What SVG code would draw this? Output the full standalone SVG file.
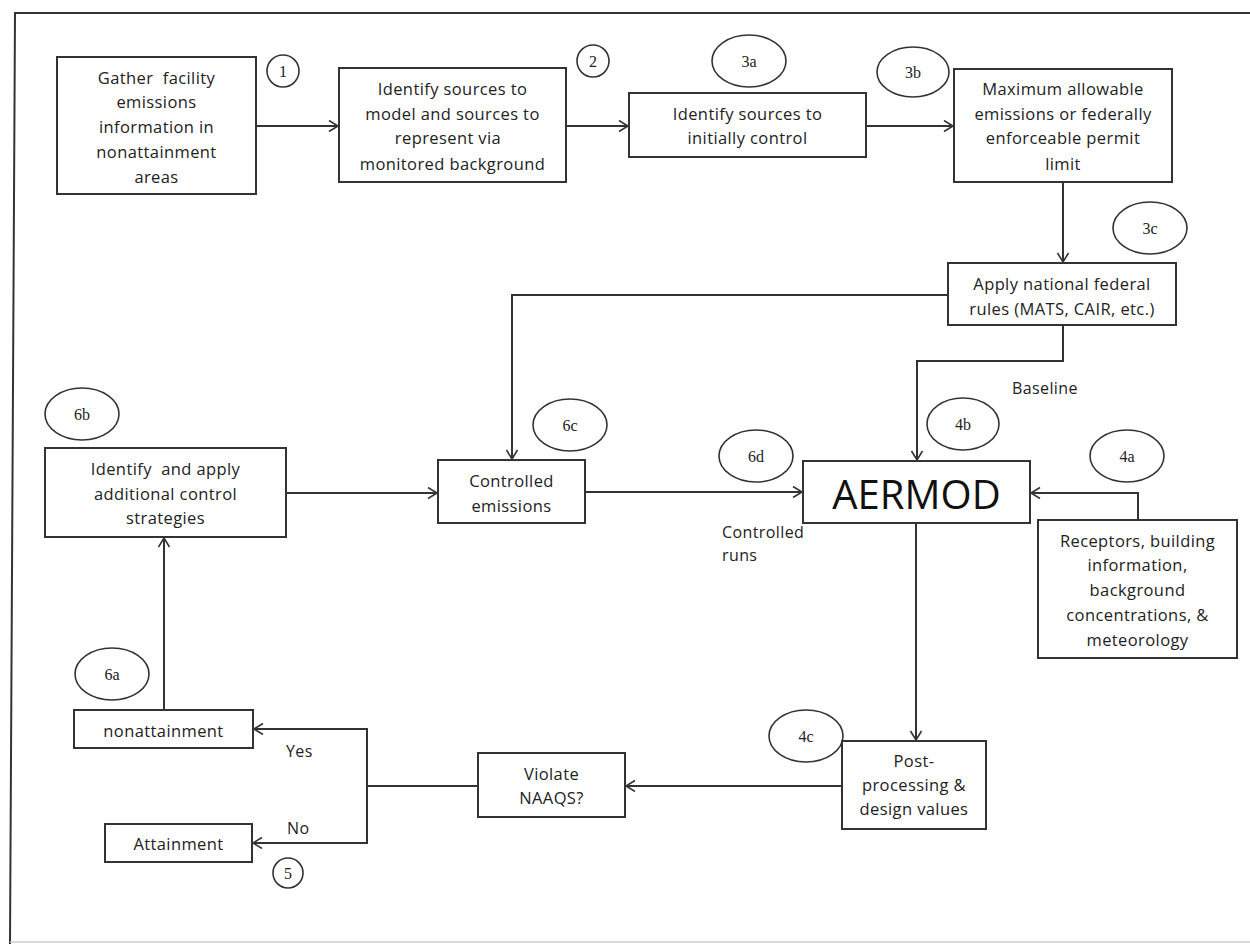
<svg xmlns="http://www.w3.org/2000/svg" width="1250" height="944" viewBox="0 0 1250 944">
<defs>
<style>
.box{fill:#fff;stroke:#333;stroke-width:2}
.tag{fill:none;stroke:#333;stroke-width:1.6}
.t{font-family:"Open Sans","Liberation Sans",sans-serif;font-size:16.5px;fill:#222;text-anchor:middle;dominant-baseline:central;letter-spacing:0.4px}
.tl{font-family:"Open Sans","Liberation Sans",sans-serif;font-size:16px;fill:#222;dominant-baseline:central;letter-spacing:0.4px}
.n{font-family:"Liberation Serif","DejaVu Serif",serif;font-size:16px;fill:#222;text-anchor:middle;dominant-baseline:central}
.big{font-family:"Open Sans","Liberation Sans",sans-serif;font-size:40px;fill:#111;text-anchor:middle;dominant-baseline:central}
.c{fill:none;stroke:#333;stroke-width:2}
</style>
<marker id="ah" markerUnits="userSpaceOnUse" markerWidth="12" markerHeight="14" refX="10" refY="6" orient="auto">
<path d="M1,0.5 L10,6 L1,11.5" fill="none" stroke="#333" stroke-width="1.6"/>
</marker>
</defs>
<rect x="0" y="0" width="1250" height="944" fill="#fff"/>
<g id="frame" fill="none" stroke="#333" stroke-width="2">
<path d="M1250,13 L15,13 L10,944"/>
<path d="M10,942 L1250,942" stroke="#ccc" stroke-width="1.5"/>
</g>
<g id="connectors">
<line class="c" x1="256" y1="126" x2="338" y2="126" marker-end="url(#ah)"/>
<line class="c" x1="566" y1="126" x2="628" y2="126" marker-end="url(#ah)"/>
<line class="c" x1="866" y1="126" x2="953" y2="126" marker-end="url(#ah)"/>
<line class="c" x1="1063" y1="182" x2="1063" y2="262" marker-end="url(#ah)"/>
<polyline class="c" points="948,295 512,295 512,459" marker-end="url(#ah)"/>
<polyline class="c" points="1063,325 1063,361 917,361 917,460" marker-end="url(#ah)"/>
<polyline class="c" points="1138,520 1138,493 1031,493" marker-end="url(#ah)"/>
<line class="c" x1="286" y1="493" x2="437" y2="493" marker-end="url(#ah)"/>
<line class="c" x1="585" y1="492" x2="802" y2="492" marker-end="url(#ah)"/>
<line class="c" x1="916" y1="523" x2="916" y2="740" marker-end="url(#ah)"/>
<line class="c" x1="842" y1="786" x2="626" y2="786" marker-end="url(#ah)"/>
<line class="c" x1="478" y1="786" x2="367" y2="786"/>
<polyline class="c" points="367,786 367,729 254,729" marker-end="url(#ah)"/>
<polyline class="c" points="367,786 367,843 253,843" marker-end="url(#ah)"/>
<line class="c" x1="164" y1="710" x2="164" y2="538" marker-end="url(#ah)"/>
<text class="tl" x="1012" y="388">Baseline</text>
<text class="tl" x="722" y="532">Controlled</text>
<text class="tl" x="722" y="555">runs</text>
<text class="tl" x="286" y="751">Yes</text>
<text class="tl" x="287" y="828">No</text>
</g>
<g id="step1">
<rect class="box" x="57" y="57" width="199" height="137"/>
<text class="t" x="156.5" y="77" xml:space="preserve">Gather  facility</text>
<text class="t" x="156.5" y="101">emissions</text>
<text class="t" x="156.5" y="126">information in</text>
<text class="t" x="156.5" y="151">nonattainment</text>
<text class="t" x="156.5" y="176">areas</text>
<circle class="tag" cx="283" cy="71" r="16"/>
<text class="n" x="283" y="71">1</text>
</g>
<g id="step2">
<rect class="box" x="339" y="68" width="227" height="114"/>
<text class="t" x="452.5" y="88">Identify sources to</text>
<text class="t" x="452.5" y="113">model and sources to</text>
<text class="t" x="448" y="137">represent via</text>
<text class="t" x="452.5" y="163">monitored background</text>
<circle class="tag" cx="593" cy="61" r="16"/>
<text class="n" x="593" y="61">2</text>
</g>
<g id="step3a">
<rect class="box" x="629" y="93" width="237" height="64"/>
<text class="t" x="747.5" y="113">Identify sources to</text>
<text class="t" x="747.5" y="137">initially control</text>
<ellipse class="tag" cx="749" cy="61" rx="37" ry="26"/>
<text class="n" x="749" y="61">3a</text>
</g>
<g id="step3b">
<rect class="box" x="954" y="69" width="218" height="113"/>
<text class="t" x="1063" y="88">Maximum allowable</text>
<text class="t" x="1063" y="113">emissions or federally</text>
<text class="t" x="1063" y="137">enforceable permit</text>
<text class="t" x="1063" y="163">limit</text>
<ellipse class="tag" cx="913" cy="72" rx="36" ry="25"/>
<text class="n" x="913" y="72">3b</text>
</g>
<g id="step3c">
<rect class="box" x="948" y="263" width="228" height="62"/>
<text class="t" x="1062" y="283">Apply national federal</text>
<text class="t" x="1062" y="308">rules (MATS, CAIR, etc.)</text>
<ellipse class="tag" cx="1150" cy="228" rx="37" ry="26"/>
<text class="n" x="1150" y="228">3c</text>
</g>
<g id="step6b">
<rect class="box" x="45" y="448" width="241" height="89"/>
<text class="t" x="165.5" y="468" xml:space="preserve">Identify  and apply</text>
<text class="t" x="165.5" y="493">additional control</text>
<text class="t" x="165.5" y="517">strategies</text>
<ellipse class="tag" cx="82" cy="414" rx="37" ry="26"/>
<text class="n" x="82" y="414">6b</text>
</g>
<g id="step6c">
<rect class="box" x="438" y="460" width="147" height="63"/>
<text class="t" x="511.5" y="480">Controlled</text>
<text class="t" x="511.5" y="505">emissions</text>
<ellipse class="tag" cx="570" cy="425" rx="37" ry="26"/>
<text class="n" x="570" y="425">6c</text>
</g>
<g id="step6d">
<ellipse class="tag" cx="756" cy="456" rx="37" ry="26"/>
<text class="n" x="756" y="456">6d</text>
</g>
<g id="aermod">
<rect class="box" x="803" y="461" width="227" height="62"/>
<text class="big" x="916.5" y="493">AERMOD</text>
<ellipse class="tag" cx="963" cy="424" rx="36" ry="26"/>
<text class="n" x="963" y="424">4b</text>
</g>
<g id="step4a">
<rect class="box" x="1038" y="520" width="199" height="138"/>
<text class="t" x="1137.5" y="540">Receptors, building</text>
<text class="t" x="1137.5" y="564">information,</text>
<text class="t" x="1137.5" y="589">background</text>
<text class="t" x="1137.5" y="614">concentrations, &amp;</text>
<text class="t" x="1137.5" y="639">meteorology</text>
<ellipse class="tag" cx="1127" cy="456" rx="37" ry="26"/>
<text class="n" x="1127" y="456">4a</text>
</g>
<g id="step4c">
<rect class="box" x="842" y="741" width="144" height="88"/>
<text class="t" x="914" y="760">Post-</text>
<text class="t" x="914" y="784">processing &amp;</text>
<text class="t" x="914" y="808">design values</text>
<ellipse class="tag" cx="806" cy="736" rx="37" ry="26"/>
<text class="n" x="806" y="736">4c</text>
</g>
<g id="violate">
<rect class="box" x="478" y="753" width="147" height="64"/>
<text class="t" x="551.5" y="773">Violate</text>
<text class="t" x="551.5" y="797">NAAQS?</text>
</g>
<g id="step6a">
<rect class="box" x="74" y="710" width="179" height="38"/>
<text class="t" x="163.5" y="730">nonattainment</text>
<ellipse class="tag" cx="112" cy="674" rx="37" ry="26"/>
<text class="n" x="112" y="674">6a</text>
</g>
<g id="step5">
<rect class="box" x="105" y="824" width="147" height="38"/>
<text class="t" x="178.5" y="843">Attainment</text>
<circle class="tag" cx="288" cy="873" r="15"/>
<text class="n" x="288" y="873">5</text>
</g>
</svg>
